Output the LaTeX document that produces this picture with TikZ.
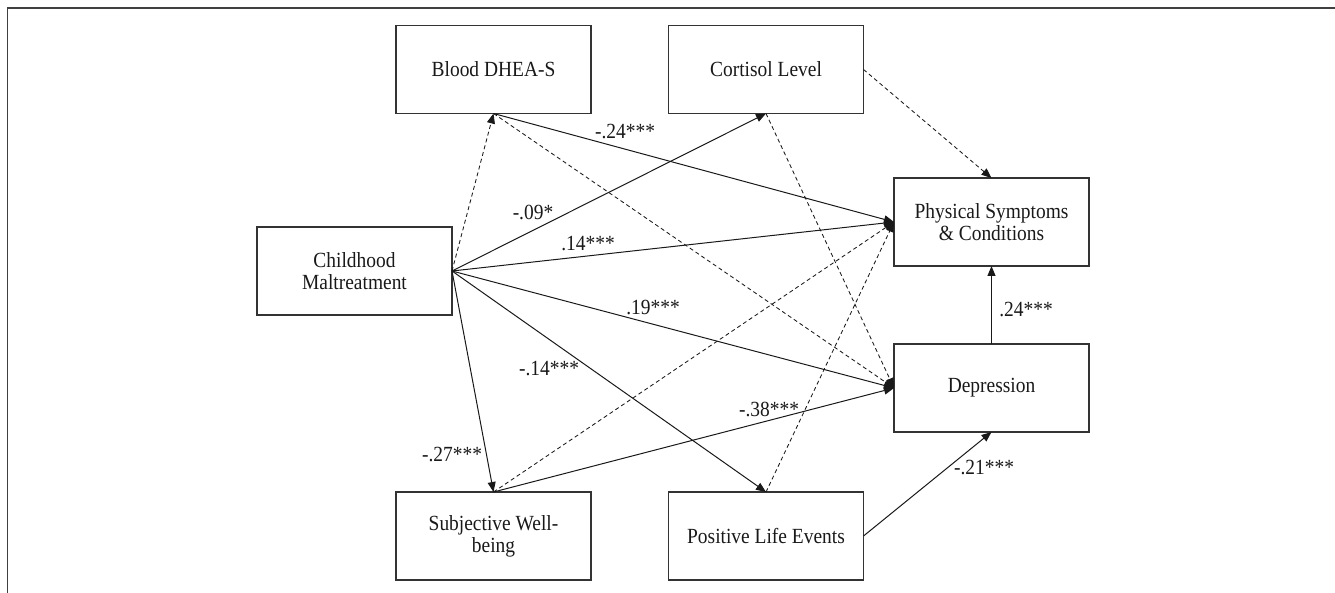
\documentclass[tikz,border=0pt]{standalone}
\usepackage{fontspec}
\setmainfont{Liberation Serif}[FakeStretch=0.9]
\usetikzlibrary{arrows.meta}
\begin{document}
\begin{tikzpicture}[x=1pt,y=-1pt,
  box/.style={draw=black!80, line width=1.6pt, minimum width=195pt, minimum height=88pt,
    inner sep=0pt, outer sep=0pt, align=center, text=black!90, font=\fontsize{21.6}{22}\selectfont},
  lab/.style={font=\fontsize{21.6}{22}\selectfont, inner sep=0pt, text=black!90},
  solidarr/.style={line width=1pt, draw=black!90, -{Triangle[length=10pt,width=8pt]}},
  dasharr/.style={line width=0.85pt, draw=black!90, dash pattern=on 4pt off 3pt, -{Triangle[length=10pt,width=8pt]}},
  frameline/.style={line width=1.5pt, draw=black!75}]
\useasboundingbox (0,0) rectangle (1335,593);
\draw[frameline] (1335,8) -- (7.5,8) -- (7.5,593);

\node[box] (CM) at (354.5,271) {Childhood\\Maltreatment};
\node[box] (BD) at (493.5,69.5) {Blood DHEA-S};
\node[box] (CL) at (766,69.5) {Cortisol Level};
\node[box] (PS) at (991.5,222) {Physical Symptoms\\\& Conditions};
\node[box] (DE) at (991.5,388) {Depression};
\node[box] (SW) at (493.5,536) {Subjective Well-\\being};
\node[box] (PL) at (766,536) {Positive Life Events};

% from Childhood Maltreatment
\draw[dasharr] (CM.east) -- (BD.south);
\draw[solidarr] (CM.east) -- (CL.south);
\draw[solidarr] (CM.east) -- (PS.west);
\draw[solidarr] (CM.east) -- (DE.west);
\draw[solidarr] (CM.east) -- (PL.north);
\draw[solidarr] (CM.east) -- (SW.north);
% from Blood DHEA-S
\draw[solidarr] (BD.south) -- (PS.west);
\draw[dasharr] (BD.south) -- (DE.west);
% from Cortisol
\draw[dasharr] (CL.east) -- (PS.north);
\draw[dasharr] (CL.south) -- (DE.west);
% from Subjective Well-being
\draw[dasharr] (SW.north) -- (PS.west);
\draw[solidarr] (SW.north) -- (DE.west);
% from Positive Life Events
\draw[dasharr] (PL.north) -- (PS.west);
\draw[solidarr] (PL.east) -- (DE.south);
% from Depression
\draw[solidarr] (DE.north) -- (PS.south);

% labels
\node[lab] (l1) at (625,132) {-.24***};
\node[lab] (l2) at (533,212) {-.09*};
\node[lab] (l3) at (588,244) {.14***};
\node[lab] (l4) at (653,308) {.19***};
\node[lab] (l5) at (549,369) {-.14***};
\node[lab] (l6) at (452,455) {-.27***};
\node[lab] (l7) at (769,409) {-.38***};
\node[lab] (l8) at (984,468) {-.21***};
\node[lab] (l9) at (1026,310) {.24***};
\end{tikzpicture}
\end{document}
